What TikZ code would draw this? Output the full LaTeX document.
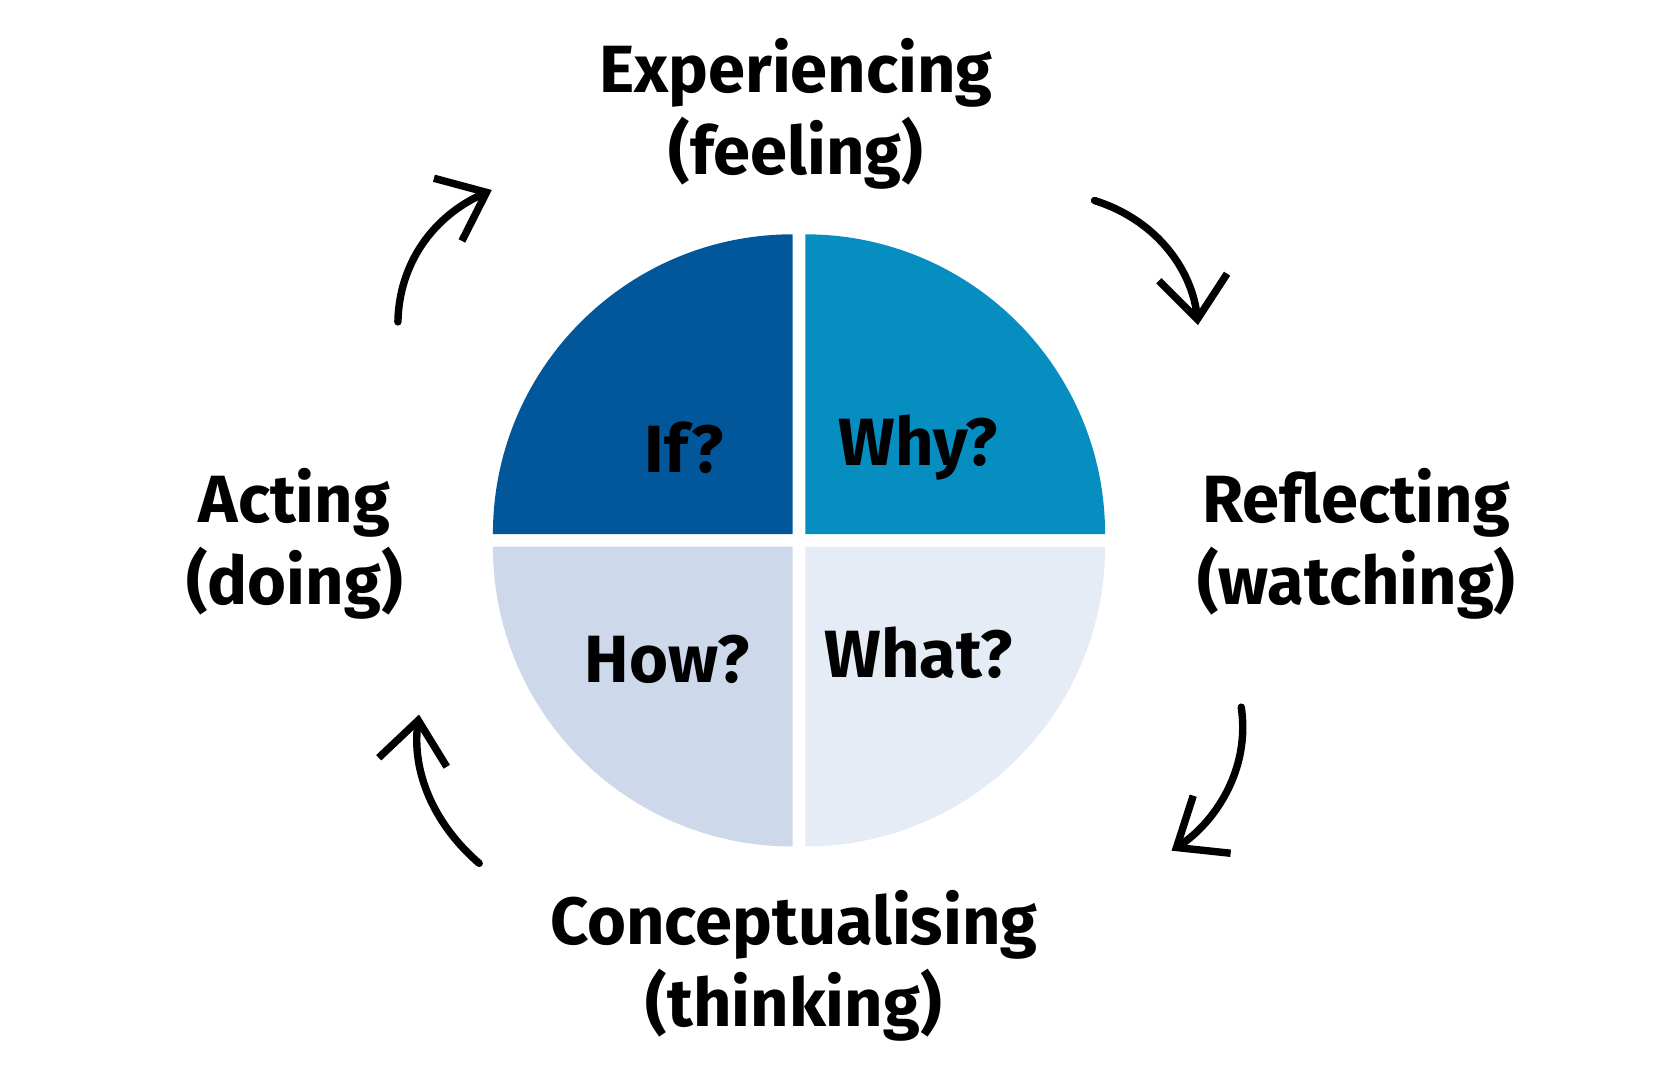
\documentclass[tikz,border=0pt]{standalone}
\usepackage{fontspec}
\setmainfont{Fira Sans}
\usetikzlibrary{arrows.meta}
\definecolor{qdark}{HTML}{02579A}
\definecolor{qmid}{HTML}{078EC1}
\definecolor{qpale}{HTML}{CDD9EA}
\definecolor{qlight}{HTML}{E6ECF5}
\tikzset{
  lbl/.style={font=\fontsize{18}{22}\selectfont\bfseries, align=center},
  qlbl/.style={font=\fontsize{18}{22}\selectfont\bfseries},
  cyc/.style={line width=2pt, line cap=round, -{Straight Barb[length=4mm,width=6.5mm,line width=2pt]}}
}
\begin{document}
\begin{tikzpicture}[x=0.01cm,y=-0.01cm]
\useasboundingbox (0,0) rectangle (1568,1013);
\fill[white] (0,0) rectangle (1568,1013);

% quarters of the wheel
\fill[qdark]  (751,506) -- (467,506) arc[start angle=180,end angle=270,radius=284] -- cycle;
\fill[qmid]   (763,506) -- (763,222) arc[start angle=270,end angle=360,radius=284] -- cycle;
\fill[qpale]  (751,518) -- (751,802) arc[start angle=90,end angle=180,radius=284] -- cycle;
\fill[qlight] (763,518) -- (1047,518) arc[start angle=0,end angle=90,radius=284] -- cycle;

\node[qlbl] (qif)   at (648,424) {If?};
\node[qlbl] (qwhy)  at (870,424) {Why?};
\node[qlbl] (qhow)  at (632,625) {How?};
\node[qlbl] (qwhat) at (870,618) {What?};

% stages
\node[lbl] (exp)  at (754,108) {Experiencing\\(feeling)};
\node[lbl] (refl) at (1285,515) {Reflecting\\(watching)};
\node[lbl] (conc) at (752,915) {Conceptualising\\(thinking)};
\node[lbl] (act)  at (279,515) {Acting\\(doing)};

% cycle arrows
\coordinate (a1) at (1037,190); \coordinate (b1) at (1135,308);
\coordinate (a2) at (1176,670); \coordinate (b2) at (1110,806);
\coordinate (a3) at (454,818);  \coordinate (b3) at (397,677);
\coordinate (a4) at (377,305);  \coordinate (b4) at (466,180);
\draw[cyc] (a1) .. controls (1100,210) and (1130,260) .. (b1);
\draw[cyc] (a2) .. controls (1185,730) and (1150,780) .. (b2);
\draw[cyc] (a3) .. controls (410,780) and (390,730) .. (b3);
\draw[cyc] (a4) .. controls (378,250) and (410,205) .. (b4);
\end{tikzpicture}
\end{document}
